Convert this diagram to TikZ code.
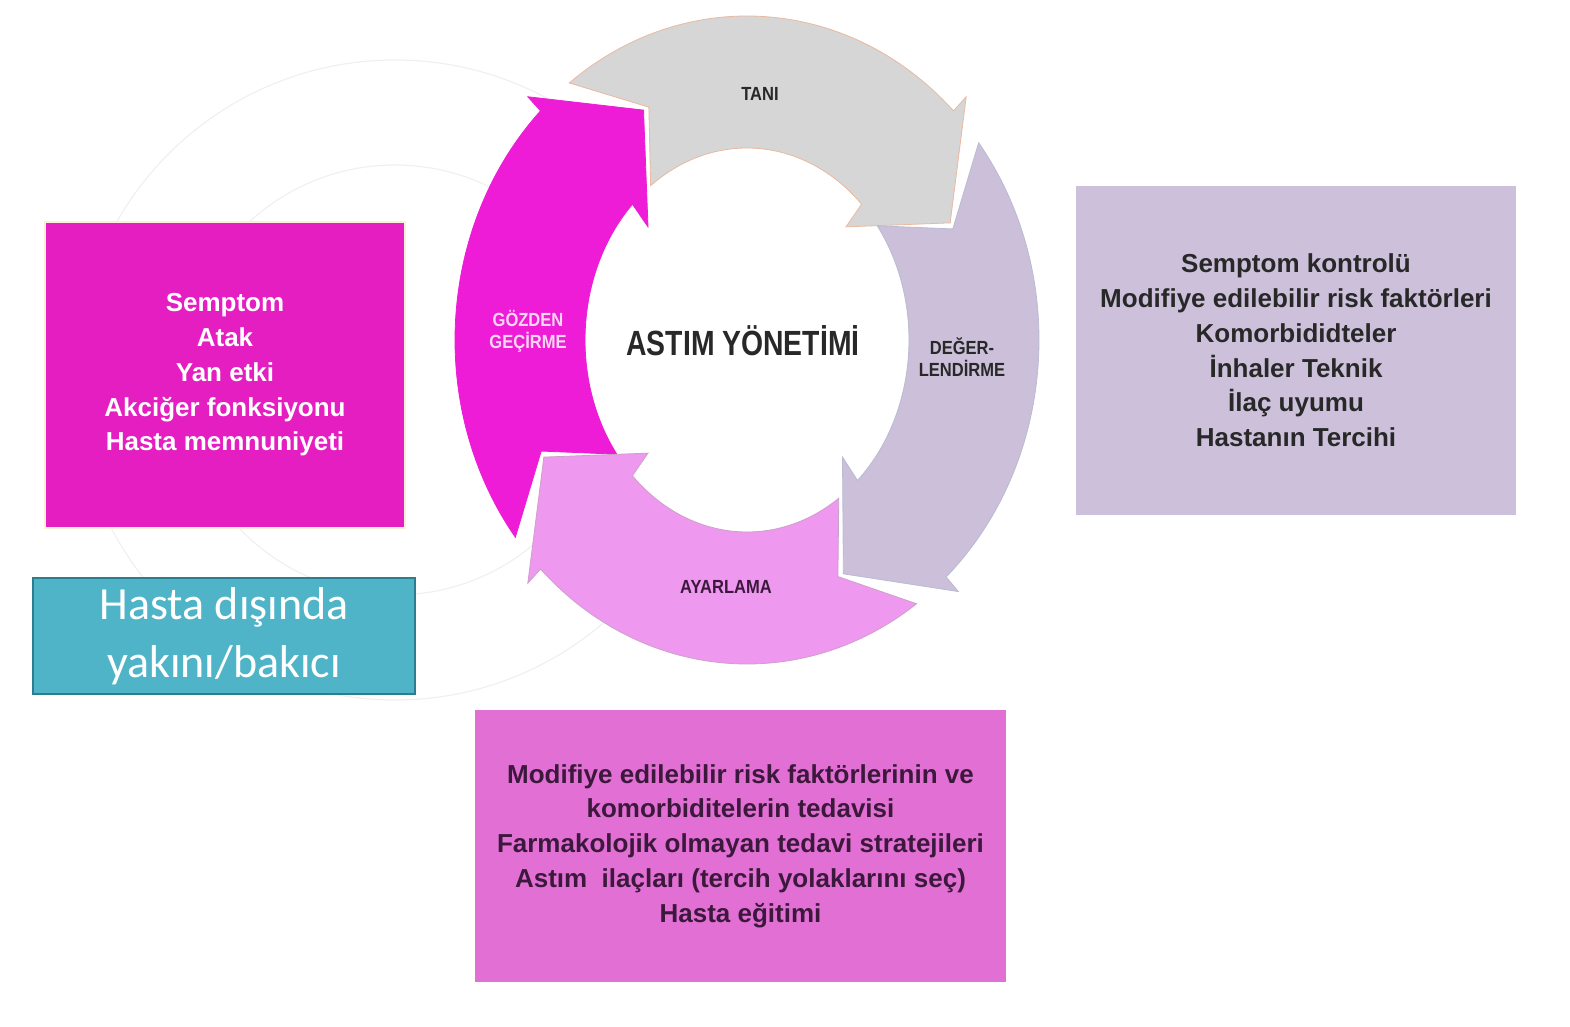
\documentclass[tikz,border=0pt]{standalone}
\usepackage{fontspec}
\setmainfont{Liberation Sans}
\newfontfamily\lightfont{Carlito}
\usepackage{xcolor}
\usepackage{tikz}
\usetikzlibrary{calc}
\definecolor{cyclegray}{RGB}{214,214,214}
\definecolor{salmonedge}{RGB}{233,185,160}
\definecolor{cyclelilac}{RGB}{203,191,218}
\definecolor{lilacedge}{RGB}{185,188,210}
\definecolor{cyclepink}{RGB}{238,152,240}
\definecolor{pinkedge}{RGB}{205,160,200}
\definecolor{cyclemagenta}{RGB}{238,28,214}
\definecolor{boxmagenta}{RGB}{228,30,192}
\definecolor{boxcream}{RGB}{250,240,215}
\definecolor{boxlilac}{RGB}{204,192,218}
\definecolor{boxorchid}{RGB}{226,112,212}
\definecolor{boxteal}{RGB}{80,180,200}
\definecolor{tealedge}{RGB}{45,125,145}
\definecolor{ghostgray}{RGB}{240,240,240}
\definecolor{labeldark}{RGB}{40,40,40}
\definecolor{labelplum}{RGB}{60,25,60}
\definecolor{labellight}{RGB}{250,215,245}

\begin{document}
\begin{tikzpicture}[x=1pt, y=1pt, every node/.style={inner sep=0pt, align=center},
  ringlabel/.style={font=\fontsize{19}{22}\selectfont\bfseries, xscale=0.87},
  infobox/.style={font=\fontsize{26}{34.75}\selectfont\bfseries}]
  \useasboundingbox (0,0) rectangle (1570,1026);

  % faint ring left over from the slide behind
  \coordinate (G) at (395,646);
  \draw[ghostgray, line width=1.2pt] (G) circle (320);
  \draw[ghostgray, line width=1.2pt] (G) circle (215);

  % boxes round the wheel
  \node[infobox, fill=boxmagenta, draw=boxcream, line width=1.5pt, text=white,
    minimum width=360, minimum height=306] (olcum) at (225,651)
    {Semptom\\Atak\\Yan etki\\Akciğer fonksiyonu\\Hasta memnuniyeti};
  \node[fill=boxteal, draw=tealedge, line width=1.5pt, text=white,
    font=\lightfont\fontsize{46}{58}\selectfont,
    minimum width=382, minimum height=116] (bakici) at (224,390)
    {Hasta dışında\\yakını/bakıcı};
  \node[infobox, fill=boxlilac, text=labeldark,
    minimum width=440, minimum height=329] (degerlendir) at (1296,675.5)
    {Semptom kontrolü\\Modifiye edilebilir risk faktörleri\\Komorbididteler\\İnhaler Teknik\\İlaç uyumu\\Hastanın Tercihi};
  \node[infobox, fill=boxorchid, text=labelplum,
    minimum width=531, minimum height=272] (tedavi) at (740.5,180)
    {Modifiye edilebilir risk faktörlerinin ve\\komorbiditelerin tedavisi\\Farmakolojik olmayan tedavi stratejileri\\Astım\ \ ilaçları (tercih yolaklarını seç)\\Hasta eğitimi};

  % cycle wheel
  \coordinate (O) at (747,686);
  \def\outerRx{292}
  \def\outerRy{324}
  \def\innerRx{162}
  \def\innerRy{192}
  \def\midRx{228}
  \def\midRy{258}
  \def\barbOx{310}
  \def\barbOy{344}
  \def\barbIx{140}
  \def\barbIy{160}
  \def\headAngle{18}

  % white middle hides the faint ring
  \fill[white] (O) ellipse[x radius=\midRx, y radius=\midRy];

  \foreach \fillcol/\edgecol/\tipAng/\prevAng in {cyclemagenta/cyclemagenta/117/207,
      cyclegray/salmonedge/27/117, cyclelilac/lilacedge/-65/27, cyclepink/pinkedge/207/295} {
    \pgfmathsetmacro\barbAng{\tipAng+\headAngle}
    \pgfmathsetmacro\tailOut{\prevAng+10.5}
    \pgfmathsetmacro\tailIn{\prevAng+9.5}
    \pgfmathsetmacro\notchAng{\prevAng-1.5}
    \filldraw[fill=\fillcol, draw=\edgecol, line width=0.8pt, line join=miter]
      ($(O)+(\tailOut:\outerRx pt and \outerRy pt)$)
      arc[start angle=\tailOut, end angle=\barbAng, x radius=\outerRx, y radius=\outerRy]
      -- ($(O)+(\barbAng:\barbOx pt and \barbOy pt)$)
      -- ($(O)+(\tipAng:\midRx pt and \midRy pt)$)
      -- ($(O)+(\barbAng:\barbIx pt and \barbIy pt)$)
      -- ($(O)+(\barbAng:\innerRx pt and \innerRy pt)$)
      arc[start angle=\barbAng, end angle=\tailIn, x radius=\innerRx, y radius=\innerRy]
      -- ($(O)+(\notchAng:\midRx pt and \midRy pt)$) -- cycle;
  }

  \node[ringlabel, text=labeldark] (tani) at (760,932) {TANI};
  \node[ringlabel, text=labellight] (gozden) at (528,695) {GÖZDEN\\GEÇİRME};
  \node[ringlabel, text=labeldark] (deger) at (962,669) {DEĞER-\\LENDİRME};
  \node[ringlabel, text=labelplum] (ayar) at (726,439) {AYARLAMA};
  \node[font=\fontsize{35}{40}\selectfont\bfseries, text=labeldark, xscale=0.81] (astim) at (743,685)
    {ASTIM YÖNETİMİ};
\end{tikzpicture}
\end{document}
